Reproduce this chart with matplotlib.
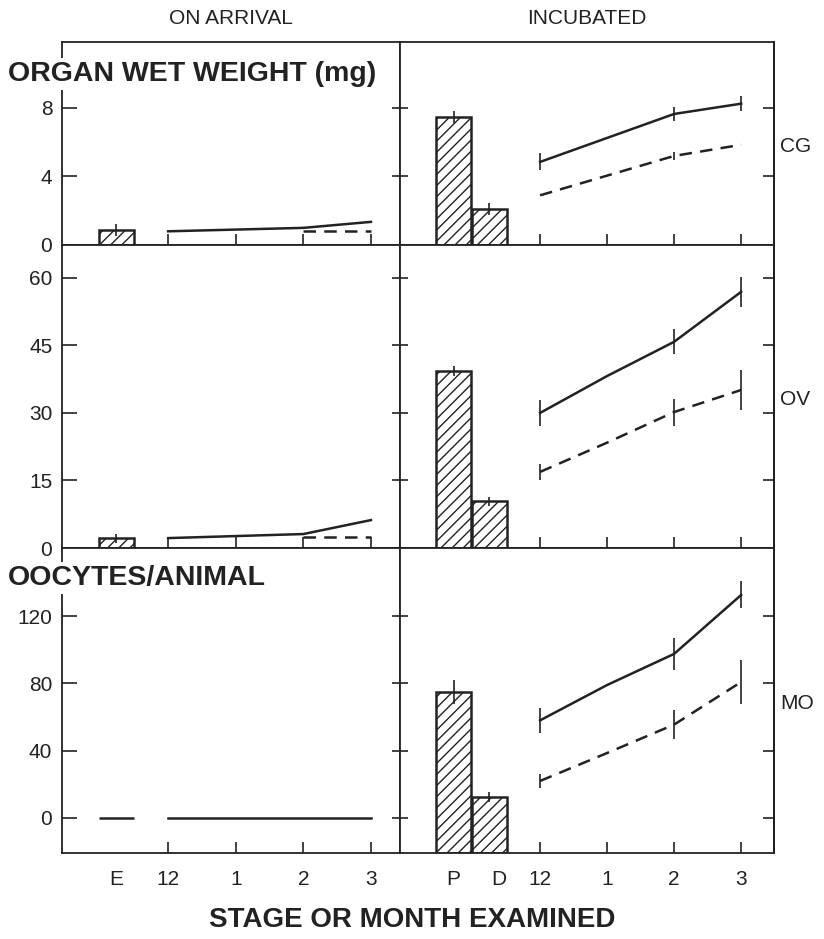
import numpy as np
import matplotlib.pyplot as plt

plt.rcParams['font.family'] = ['Liberation Sans', 'DejaVu Sans']
plt.rcParams['hatch.linewidth'] = 1.0

INK = '#222222'

# x positions: months 12, 1, 2, 3 -> 0..3 ; stages placed before month 12
month_pos = [0, 1, 2, 3]
month_labels = ['12', '1', '2', '3']
arrival_stage = ['E']
arrival_stage_pos = [-0.77]
incub_stage = ['P', 'D']
incub_stage_pos = [-1.29, -0.76]
incub_stage_label_pos = [-1.29, -0.62]

rows = ['CG', 'OV', 'MO']

# on arrival: stage E bar, then solid / dashed monthly lines
arr_bar = {'CG': 0.85, 'OV': 2.2, 'MO': 0.0}
arr_bar_err = {'CG': 0.35, 'OV': 1.0, 'MO': 0.0}
arr_solid_x = [0, 2, 3]
arr_solid = {'CG': [0.8, 1.0, 1.35], 'OV': [2.2, 3.1, 6.2], 'MO': [0.0, 0.0, 0.0]}
arr_dash_x = [2, 3]
arr_dash = {'CG': [0.8, 0.8], 'OV': [2.4, 2.4], 'MO': None}

# incubated: stage P, D bars, then solid / dashed monthly lines
inc_bars = {'CG': [7.45, 2.1], 'OV': [39.3, 10.4], 'MO': [75.0, 12.5]}
inc_bars_err = {'CG': [0.35, 0.35], 'OV': [1.2, 1.0], 'MO': [7.0, 3.0]}
inc_solid_x = {'CG': [0, 2, 3], 'OV': [0, 1, 2, 3], 'MO': [0, 1, 2, 3]}
inc_solid = {'CG': [4.85, 7.65, 8.25], 'OV': [30.0, 38.2, 45.8, 56.9],
             'MO': [58.0, 79.0, 97.5, 132.5]}
inc_solid_err = {'CG': [0.5, 0.4, 0.45], 'OV': [2.8, 0, 2.8, 3.3],
                 'MO': [7.4, 0, 9.4, 8.0]}
inc_dash_x = {'CG': [0, 2, 3], 'OV': [0, 1, 2, 3], 'MO': [0, 1, 2, 3]}
inc_dash = {'CG': [2.9, 5.2, 5.85], 'OV': [16.9, 23.4, 30.2, 35.1],
            'MO': [22.0, 38.6, 55.5, 80.8]}
inc_dash_err = {'CG': [0, 0.25, 0], 'OV': [1.7, 0, 3.0, 4.4], 'MO': [4.0, 0, 8.4, 12.9]}

yticks = {'CG': [0, 4, 8], 'OV': [0, 15, 30, 45, 60], 'MO': [0, 40, 80, 120]}
ylims = {'CG': (0, 11.85), 'OV': (0, 67.3), 'MO': (-20.8, 160.4)}

fig = plt.figure(figsize=(8.24, 9.39), dpi=100)

W, H = 824.0, 939.0
row_px = [(42, 245), (245, 548), (548, 853)]
left_px = (62, 400)
right_px = (400, 774)


def make_ax(xpx, ypx):
    return fig.add_axes([xpx[0] / W, 1 - ypx[1] / H, (xpx[1] - xpx[0]) / W, (ypx[1] - ypx[0]) / H])


dash = (0, (5, 3.3))
bar_w = 0.52

for i, key in enumerate(rows):
    axl = make_ax(left_px, row_px[i])
    axr = make_ax(right_px, row_px[i])
    last = i == len(rows) - 1
    base = ylims[key][0]

    # on arrival
    axl.bar(arrival_stage_pos, [arr_bar[key]], width=bar_w, facecolor='white',
            edgecolor=INK, linewidth=1.8, hatch='///')
    if arr_bar_err[key] > 0:
        axl.errorbar(arrival_stage_pos, [arr_bar[key]], yerr=[arr_bar_err[key]],
                     fmt='none', ecolor=INK, elinewidth=1.2, capsize=0)
    axl.plot(arr_solid_x, arr_solid[key], color=INK, lw=1.8)
    if arr_dash[key] is not None:
        axl.plot(arr_dash_x, arr_dash[key], color=INK, lw=1.8, linestyle=dash)

    # incubated (bars rise from the bottom of the panel)
    heights = [v - base for v in inc_bars[key]]
    axr.bar(incub_stage_pos, heights, bottom=base, width=bar_w, facecolor='white',
            edgecolor=INK, linewidth=1.8, hatch='///')
    axr.errorbar(incub_stage_pos, inc_bars[key], yerr=inc_bars_err[key],
                 fmt='none', ecolor=INK, elinewidth=1.2, capsize=0)
    axr.errorbar(inc_solid_x[key], inc_solid[key], yerr=inc_solid_err[key],
                 color=INK, lw=1.8, elinewidth=1.2, capsize=0)
    axr.errorbar(inc_dash_x[key], inc_dash[key], yerr=inc_dash_err[key],
                 color=INK, lw=1.8, elinewidth=1.2, capsize=0, linestyle=dash)

    for ax in (axl, axr):
        ax.set_ylim(*ylims[key])
        ax.set_yticks(yticks[key])
        for s in ax.spines.values():
            s.set_linewidth(1.3)
            s.set_color(INK)
        ax.tick_params(colors=INK, width=1.2)

    axl.set_xlim(-1.57, 3.43)
    axr.set_xlim(-2.09, 3.49)

    axl.tick_params(axis='y', direction='in', length=11, labelsize=15, pad=7, right=False)
    axr.tick_params(axis='y', direction='inout', length=12, labelleft=False, right=False)
    sec = axr.secondary_yaxis('right')
    sec.set_yticks(yticks[key])
    sec.tick_params(direction='in', length=8, width=1.2, labelright=False, colors=INK)
    sec.spines['right'].set_linewidth(1.3)

    if last:
        axl.set_xticks(arrival_stage_pos + month_pos)
        axl.set_xticklabels(arrival_stage + month_labels)
        axr.set_xticks(incub_stage_label_pos + month_pos)
        axr.set_xticklabels(incub_stage + month_labels)
        axl.xaxis.get_major_ticks()[0].tick1line.set_visible(False)
        for t in axr.xaxis.get_major_ticks()[:2]:
            t.tick1line.set_visible(False)
        for ax in (axl, axr):
            ax.tick_params(axis='x', direction='in', length=8, labelsize=15, pad=12)
    else:
        for ax in (axl, axr):
            ax.set_xticks(month_pos)
            ax.tick_params(axis='x', direction='in', length=8, labelbottom=False)

    fig.text(780 / W, 1 - ((row_px[i][0] + row_px[i][1]) / 2 + 3) / H, key,
             fontsize=15, color=INK, va='center', ha='left')

fig.text(231 / W, 1 - 18 / H, 'ON ARRIVAL', fontsize=15, color=INK, ha='center', va='center')
fig.text(587 / W, 1 - 18 / H, 'INCUBATED', fontsize=15, color=INK, ha='center', va='center')
fig.text(8 / W, 1 - 74 / H, 'ORGAN WET WEIGHT (mg)', fontsize=20.5, fontweight='bold',
         color=INK, ha='left', va='center',
         bbox=dict(facecolor='white', edgecolor='none', pad=2))
fig.text(8 / W, 1 - 578 / H, 'OOCYTES/ANIMAL', fontsize=20.5, fontweight='bold',
         color=INK, ha='left', va='center',
         bbox=dict(facecolor='white', edgecolor='none', pad=2))
fig.text(412 / W, 1 - 920 / H, 'STAGE OR MONTH EXAMINED', fontsize=20, fontweight='bold',
         color=INK, ha='center', va='center')

fig.savefig('out.png', dpi=100, facecolor='white')
